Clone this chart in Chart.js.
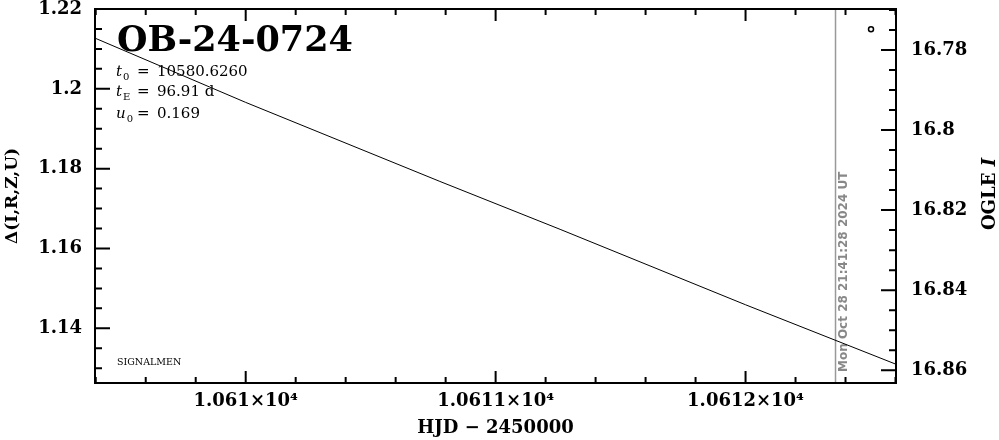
<!DOCTYPE html>
<html>
<head>
<meta charset="utf-8">
<script src="https://cdn.jsdelivr.net/npm/chart.js@4"></script>
<style>
  html, body { margin: 0; padding: 0; background: #fff; }
</style>
</head>
<body>
<canvas id="lightCurve" width="999" height="440"></canvas>
<script>
// model curve (left axis) and the one OGLE point (right axis)
const modelHjd = [10609.397, 10610.0, 10610.777, 10611.258, 10612.0, 10612.602];
const modelDelta = [1.2127, 1.1966, 1.1768, 1.1648, 1.1459, 1.1310];
const obsHjd = [10612.502];
const obsMag = [16.7748];

const xTicks = [10610, 10611, 10612];
const xTickLabels = ['1.061×10⁴', '1.0611×10⁴', '1.0612×10⁴'];
const deltaTicks = [1.14, 1.16, 1.18, 1.2, 1.22];
const deltaTickLabels = ['1.14', '1.16', '1.18', '1.2', '1.22'];
const magTicks = [16.78, 16.8, 16.82, 16.84, 16.86];
const magTickLabels = ['16.78', '16.8', '16.82', '16.84', '16.86'];

const eventName = 'OB-24-0724';
const params = [['t', '0', '10580.6260'], ['t', 'E', '96.91 d'], ['u', '0', '0.169']];
const nowHjd = 10612.36;
const nowLabel = 'Mon Oct 28 21:41:28 2024 UT';

const serif = 'DejaVu Serif';
const tickFont = { family: serif, size: 18, weight: 'bold' };

function fixTicks(values) {
    return function (scale) { scale.ticks = values.map(v => ({ value: v })); };
}

// keep the plot box where the reference has it, whatever the label overhang
function fixWidth(w) {
    return function (s) { s.width = w; s.paddingTop = 0; s.paddingBottom = 0; };
}

const overlay = {
    id: 'overlay',
    beforeDatasetsDraw(chart) {
        const { ctx, chartArea: a, scales } = chart;
        const nx = scales.x.getPixelForValue(nowHjd);
        ctx.save();
        ctx.strokeStyle = '#999';
        ctx.lineWidth = 1.5;
        ctx.beginPath();
        ctx.moveTo(nx, a.top);
        ctx.lineTo(nx, a.bottom);
        ctx.stroke();
        ctx.translate(nx + 8, a.bottom - 11);
        ctx.rotate(-Math.PI / 2);
        ctx.fillStyle = '#888';
        ctx.font = 'bold 12px "DejaVu Sans"';
        ctx.textAlign = 'left';
        ctx.textBaseline = 'middle';
        ctx.fillText(nowLabel, 0, 0);
        ctx.restore();
    },
    afterDraw(chart) {
        const { ctx, chartArea: a, scales } = chart;
        const x = scales.x, y = scales.y, m = scales.y2;
        ctx.save();
        ctx.strokeStyle = '#000';
        ctx.lineWidth = 2;
        ctx.strokeRect(a.left, a.top, a.right - a.left, a.bottom - a.top);

        ctx.beginPath();
        // x ticks, bottom and top, every 0.2 d
        for (let i = Math.ceil(x.min * 5); i <= Math.floor(x.max * 5); i++) {
            const px = x.getPixelForValue(i / 5);
            const len = i % 5 === 0 ? 12 : 6;
            ctx.moveTo(px, a.bottom); ctx.lineTo(px, a.bottom - len);
            ctx.moveTo(px, a.top); ctx.lineTo(px, a.top + len);
        }
        // left ticks every 0.005
        for (let i = Math.ceil(y.min * 200); i <= Math.floor(y.max * 200); i++) {
            const py = y.getPixelForValue(i / 200);
            const len = i % 4 === 0 ? 15 : 7;
            ctx.moveTo(a.left, py); ctx.lineTo(a.left + len, py);
        }
        // right ticks every 0.005 mag
        for (let i = Math.ceil(m.min * 200); i <= Math.floor(m.max * 200); i++) {
            const py = m.getPixelForValue(i / 200);
            const len = i % 4 === 0 ? 15 : 7;
            ctx.moveTo(a.right, py); ctx.lineTo(a.right - len, py);
        }
        ctx.stroke();

        ctx.fillStyle = '#000';
        ctx.textAlign = 'left';
        ctx.textBaseline = 'alphabetic';
        ctx.font = 'bold 35px "' + serif + '"';
        ctx.fillText(eventName, a.left + 22, 51);

        const baselines = [76, 96, 118];
        params.forEach(function (p, k) {
            const by = baselines[k];
            ctx.font = 'italic 15px "' + serif + '"';
            ctx.fillText(p[0], a.left + 21, by);
            const w = ctx.measureText(p[0]).width;
            ctx.font = '10px "' + serif + '"';
            ctx.fillText(p[1], a.left + 22 + w, by + 4);
            ctx.font = '15px "' + serif + '"';
            ctx.fillText('=', a.left + 42, by);
            ctx.fillText(p[2], a.left + 62, by);
        });

        ctx.font = '9.5px "' + serif + '"';
        ctx.fillText('SIGNALMEN', a.left + 22, 365);

        // right axis title, reading upward
        ctx.translate(990, 194);
        ctx.rotate(-Math.PI / 2);
        ctx.textBaseline = 'middle';
        ctx.font = 'bold 18px "' + serif + '"';
        const w1 = ctx.measureText('OGLE ').width;
        ctx.font = 'bold italic 18px "' + serif + '"';
        const w2 = ctx.measureText('I').width;
        ctx.font = 'bold 18px "' + serif + '"';
        ctx.fillText('OGLE ', -(w1 + w2) / 2, 0);
        ctx.font = 'bold italic 18px "' + serif + '"';
        ctx.fillText('I', -(w1 + w2) / 2 + w1, 0);
        ctx.restore();
    }
};

new Chart(document.getElementById('lightCurve').getContext('2d'), {
    type: 'scatter',
    data: {
        datasets: [
            {
                label: 'model',
                data: modelHjd.map((h, i) => ({ x: h, y: modelDelta[i] })),
                showLine: true,
                borderColor: '#000',
                borderWidth: 1,
                pointRadius: 0,
                tension: 0,
                yAxisID: 'y'
            },
            {
                label: 'OGLE I',
                data: obsHjd.map((h, i) => ({ x: h, y: obsMag[i] })),
                pointRadius: 2.5,
                pointBorderWidth: 1.5,
                pointBackgroundColor: '#fff',
                pointBorderColor: '#000',
                yAxisID: 'y2'
            }
        ]
    },
    options: {
        responsive: false,
        animation: false,
        layout: { padding: { top: 9, left: 0, right: 0, bottom: 0 } },
        plugins: { legend: { display: false }, tooltip: { enabled: false } },
        scales: {
            x: {
                type: 'linear',
                min: 10609.397,
                max: 10612.602,
                afterBuildTicks: fixTicks(xTicks),
                afterFit: s => { s.height = 57; s.paddingLeft = 0; s.paddingRight = 0; },
                grid: { display: false, drawTicks: false },
                border: { display: false },
                ticks: {
                    font: tickFont, color: '#000', padding: 8,
                    autoSkip: false, maxRotation: 0, minRotation: 0,
                    callback: (v, i) => xTickLabels[i]
                },
                title: {
                    display: true, text: 'HJD − 2450000', color: '#000',
                    font: tickFont, padding: { top: 0, bottom: 1 }
                }
            },
            y: {
                position: 'left',
                min: 1.1263,
                max: 1.22,
                afterBuildTicks: fixTicks(deltaTicks),
                afterFit: fixWidth(95),
                grid: { display: false, drawTicks: false },
                border: { display: false },
                ticks: {
                    font: tickFont, color: '#000', padding: 13,
                    autoSkip: false,
                    callback: (v, i) => deltaTickLabels[i]
                },
                title: {
                    display: true, text: 'Δ(I,R,Z,U)', color: '#000',
                    font: { family: serif, size: 17, weight: 'bold' },
                    padding: { top: 2, bottom: 0 }
                }
            },
            y2: {
                position: 'right',
                reverse: true,
                min: 16.76975,
                max: 16.8632,
                afterBuildTicks: fixTicks(magTicks),
                afterFit: fixWidth(103),
                grid: { display: false, drawTicks: false },
                border: { display: false },
                ticks: {
                    font: tickFont, color: '#000', padding: 15,
                    autoSkip: false,
                    callback: (v, i) => magTickLabels[i]
                }
            }
        }
    },
    plugins: [overlay]
});
</script>
</body>
</html>
